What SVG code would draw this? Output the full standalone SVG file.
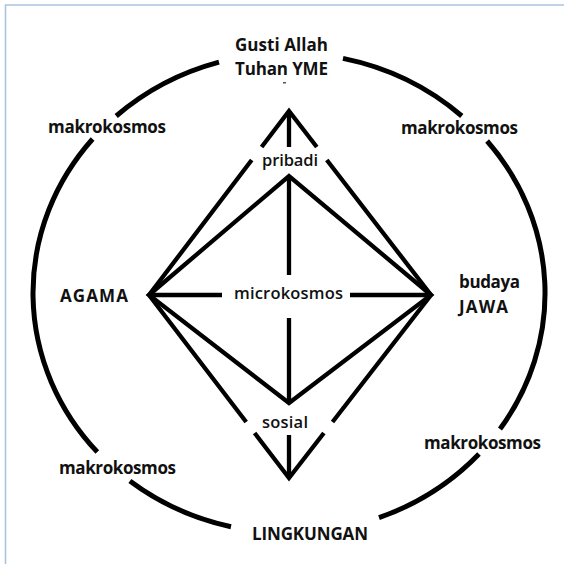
<svg xmlns="http://www.w3.org/2000/svg" width="564" height="564" viewBox="0 0 564 564">
<style>
.frame{stroke:#a9c3e2;stroke-width:1.6;fill:none}
.ring{fill:none;stroke:#000;stroke-width:5}
.edge{fill:none;stroke:#000;stroke-width:4.3;stroke-linejoin:miter;stroke-miterlimit:10}
.big{font-family:"Open Sans","Liberation Sans",sans-serif;font-weight:700;font-size:17px;fill:#111}
.small{font-family:"Open Sans","Liberation Sans",sans-serif;font-weight:600;font-size:16.5px;fill:#111}
</style>
<rect width="564" height="564" fill="#fff"/>
<path class="frame" d="M5.5,564 V5 H564"/>
<g id="ring">
<path class="ring" d="M343,58.4 A256 240 0 0 1 461.8,116 M487.1,141 A256 240 0 0 1 500,429 M479,454 A256 240 0 0 1 379,517.7 M231,526.8 A256 240 0 0 1 129.9,481 M97.3,452 A256 240 0 0 1 92.6,139 M116.2,116 A256 240 0 0 1 219,62.1"/>
</g>
<g id="connectors">
<polygon class="edge" points="149,295 289,176 431,295 289,403"/>
<polyline class="edge" points="261.6,147 289,111 316.8,147"/>
<polyline class="edge" points="251.7,160 149,295 246.2,422"/>
<polyline class="edge" points="326.8,160 431,295 332.5,422"/>
<polyline class="edge" points="254.6,433 289,478 323.9,433"/>
<path class="edge" d="M289,111 V147 M289,176 V275 M289,318 V403 M289,435 V478 M149,295 H222 M350,295 H431"/>
</g>
<g id="gusti"><text class="big" x="235" y="51" textLength="93">Gusti Allah</text><text class="big" x="235" y="75" textLength="93">Tuhan YME</text><rect x="283" y="82" width="3" height="1.5" fill="#555"/></g>
<g id="makro-tl"><text class="big" x="48" y="133" textLength="118">makrokosmos</text></g>
<g id="makro-tr"><text class="big" x="401" y="134" textLength="117">makrokosmos</text></g>
<g id="agama"><text class="big" x="60" y="302" textLength="68">AGAMA</text></g>
<g id="budaya"><text class="big" x="459" y="288" textLength="61">budaya</text><text class="big" x="459" y="313" textLength="49">JAWA</text></g>
<g id="makro-br"><text class="big" x="424" y="449" textLength="117">makrokosmos</text></g>
<g id="makro-bl"><text class="big" x="59" y="474" textLength="117">makrokosmos</text></g>
<g id="lingkungan"><text class="big" x="252" y="540" textLength="116">LINGKUNGAN</text></g>
<g id="pribadi"><text class="small" x="262" y="166" textLength="56">pribadi</text></g>
<g id="microkosmos"><text class="small" x="234" y="299" textLength="109">microkosmos</text></g>
<g id="sosial"><text class="small" x="262" y="428" textLength="46">sosial</text></g>
</svg>
